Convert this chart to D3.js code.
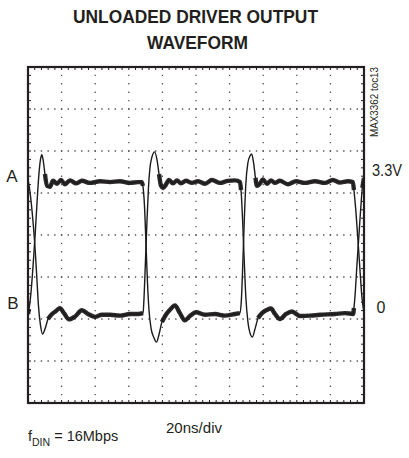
<!DOCTYPE html>
<html><head><meta charset="utf-8">
<script src="https://cdn.jsdelivr.net/npm/d3@7"></script>
<style>html,body{margin:0;padding:0;background:#fff}svg{display:block}text{font-family:"Liberation Sans",Arial,sans-serif;fill:#231f20}</style>
</head><body><svg id="c" width="409" height="458"></svg>
<script>
// ---- data (time in ns, amplitude in V) ----
const titleLines = ["UNLOADED DRIVER OUTPUT", "WAVEFORM"];
const timeDomain = [0, 200];          // 20ns/div, 10 divisions
const voltDomain = [-2.12, 5.88];     // 1V/div, 8 divisions
const timePerDiv = 20, voltPerDiv = 1, subDivs = 5;
const channelLabels = ["A", "B"];
const levelLabels = ["3.3V", "0"];
const levelValues = [3.3, 0];
const sweepLabel = "20ns/div";
const noteLabel = ["f", "DIN", " = 16Mbps"];
const plotId = "MAX3362 toc13";

// trace starting high (falls at left edge)
const traceP = [
  [0.0,3.21],[1.2,2.90],[3.0,2.19],[4.2,1.57],[5.4,0.76],[6.2,0.21],[7.4,-0.26],[8.7,-0.48],
  [10.1,-0.36],[11.9,-0.12],[14.3,0],[16.7,0.07],[19.0,0.14],[21.4,0.02],[24.4,-0.13],[28.0,-0.06],
  [32.1,0.09],[35.7,0],[39.9,-0.07],[44.0,-0.02],[48.8,-0.02],[54.8,-0.04],[60.7,0],[65.5,0],[68.5,0.02],
  [69.0,0.33],[69.9,1.24],[70.8,2.19],[71.7,3.00],[72.6,3.48],[73.8,3.74],[75.3,3.86],[76.8,3.67],
  [78.0,3.33],[79.2,3.05],[80.4,3.00],[82.1,3.08],[83.9,3.19],[86.3,3.11],[88.7,3.18],[91.1,3.11],
  [94.0,3.17],[97.6,3.12],[101.2,3.16],[105.4,3.10],[109.5,3.19],[114.3,3.12],[119.0,3.17],[123.2,3.18],
  [126.2,3.14],[126.8,2.95],[127.6,2.36],[128.5,1.48],[129.7,0.38],[130.9,-0.19],[132.1,-0.45],[133.6,-0.55],
  [135.1,-0.36],[136.9,-0.10],[139.3,0.02],[142.3,0.10],[144.6,0.13],[147.0,0],[150.0,-0.12],[153.6,0],
  [157.1,0.06],[161.9,-0.05],[167.9,-0.04],[173.8,-0.02],[182.7,0],[188.7,0.02],[193.5,0],
  [194.0,0.14],[194.9,0.57],[195.8,1.17],[197.0,1.88],[198.2,2.60],[199.0,3.00],[200.0,3.24]
];
// complementary trace starting low (rises at left edge)
const traceQ = [
  [0.0,0],[0.6,0.12],[1.8,0.52],[3.0,1.14],[4.2,1.86],[5.4,2.67],[6.5,3.33],[7.4,3.67],[8.2,3.79],
  [8.9,3.69],[10.1,3.33],[11.3,3.05],[13.1,3.03],[14.9,3.17],[17.3,3.10],[19.6,3.19],[22.0,3.09],
  [25.0,3.18],[28.6,3.11],[32.1,3.17],[36.9,3.12],[42.8,3.16],[48.8,3.14],[54.7,3.16],[60.7,3.12],
  [65.5,3.14],[67.8,3.14],[68.4,3.05],[69.3,2.60],[70.2,1.71],[71.1,0.76],[72.0,0.10],[73.2,-0.33],
  [75.0,-0.57],[76.5,-0.67],[77.9,-0.50],[79.7,-0.19],[82.1,-0.02],[84.5,0.10],[87.5,0.20],[90.4,0.02],
  [93.4,-0.15],[96.4,-0.05],[100.0,0.04],[105.3,-0.02],[111.3,0],[117.2,-0.04],[123.2,0],[126.1,0.02],
  [127.0,0.33],[127.9,1.24],[128.8,2.29],[129.7,3.12],[130.9,3.60],[132.1,3.76],[133.1,3.81],[134.2,3.62],
  [135.4,3.24],[136.3,3.05],[138.0,3.10],[139.8,3.20],[142.2,3.10],[144.6,3.18],[147.0,3.12],[149.9,3.17],
  [154.7,3.09],[159.5,3.16],[164.8,3.12],[170.8,3.16],[176.7,3.12],[181.5,3.19],[185.6,3.13],[190.4,3.16],
  [193.4,3.14],[194.0,2.95],[195.2,2.43],[196.4,1.76],[197.6,1.05],[198.7,0.43],[199.9,0.05]
];
const settledLevels = [0, 3.14];

// ---- drawing ----
const svg = d3.select("#c");
svg.append("rect").attr("width",409).attr("height",458).attr("fill","#fff");
const x = d3.scaleLinear().domain(timeDomain).range([28, 364]);
const y = d3.scaleLinear().domain(voltDomain).range([403, 67]);
const X0 = x.range()[0], X1 = x.range()[1], Y0 = y.range()[1], Y1 = y.range()[0];

// grid
const g = svg.append("g");
const vDivs = d3.range(timeDomain[0], timeDomain[1] + 1e-6, timePerDiv);
const hDivs = d3.range(0, (voltDomain[1]-voltDomain[0]) / voltPerDiv + 1e-6).map(k => voltDomain[0] + k*voltPerDiv);
const subX = (x(timePerDiv) - x(0)) / subDivs;
const subY = (y(0) - y(voltPerDiv)) / subDivs;
vDivs.slice(1, -1).forEach(t => {
  g.append("line").attr("x1", x(t)).attr("x2", x(t)).attr("y1", Y0).attr("y2", Y1)
   .attr("stroke", "#555").attr("stroke-width", 1.3)
   .attr("stroke-dasharray", `1.4,${(subY-1.4).toFixed(2)}`).attr("stroke-dashoffset", 0.7);
});
hDivs.slice(1, -1).forEach(v => {
  g.append("line").attr("x1", X0).attr("x2", X1).attr("y1", y(v)).attr("y2", y(v))
   .attr("stroke", "#555").attr("stroke-width", 1.3)
   .attr("stroke-dasharray", `1.4,${(subX-1.4).toFixed(2)}`).attr("stroke-dashoffset", 0.7);
});
const tickLen = 3;
d3.range(0, 10*subDivs + 1).forEach(i => {
  const px = X0 + i*subX;
  g.append("line").attr("x1", px).attr("x2", px).attr("y1", Y0).attr("y2", Y0 + tickLen).attr("stroke","#222").attr("stroke-width",1);
  g.append("line").attr("x1", px).attr("x2", px).attr("y1", Y1).attr("y2", Y1 - tickLen).attr("stroke","#222").attr("stroke-width",1);
});
d3.range(0, 8*subDivs + 1).forEach(i => {
  const py = Y1 - i*subY;
  g.append("line").attr("x1", X0).attr("x2", X0 + tickLen).attr("y1", py).attr("y2", py).attr("stroke","#222").attr("stroke-width",1);
  g.append("line").attr("x1", X1).attr("x2", X1 - tickLen).attr("y1", py).attr("y2", py).attr("stroke","#222").attr("stroke-width",1);
});
g.append("rect").attr("x", X0).attr("y", Y0).attr("width", X1 - X0).attr("height", Y1 - Y0)
 .attr("fill", "none").attr("stroke", "#231f20").attr("stroke-width", 2.2);

// traces
svg.append("clipPath").attr("id","clp").append("rect")
  .attr("x", X0).attr("y", Y0).attr("width", X1 - X0).attr("height", Y1 - Y0);
const tg = svg.append("g").attr("clip-path","url(#clp)");
const thin = d3.line().x(d => x(d[0])).y(d => y(d[1])).curve(d3.curveMonotoneX);
const near = d => settledLevels.some(l => Math.abs(d[1] - l) < 0.22);
const thick = d3.line().defined(near).x(d => x(d[0])).y(d => y(d[1])).curve(d3.curveMonotoneX);
[traceP, traceQ].forEach(tr => {
  tg.append("path").attr("d", thick(tr)).attr("fill","none").attr("stroke","#1c1a1a")
    .attr("stroke-width", 4.4).attr("stroke-linejoin","round").attr("stroke-linecap","butt").attr("opacity",0.93);
  tg.append("path").attr("d", thin(tr)).attr("fill","none").attr("stroke","#1c1a1a")
    .attr("stroke-width", 1.4).attr("stroke-linejoin","round");
});

// texts
svg.append("text").attr("x", 195.5).attr("y", 23).attr("text-anchor","middle")
  .attr("font-size", 18).attr("font-weight","bold").attr("textLength", 245).attr("lengthAdjust","spacingAndGlyphs").text(titleLines[0]);
svg.append("text").attr("x", 197.5).attr("y", 49).attr("text-anchor","middle")
  .attr("font-size", 18).attr("font-weight","bold").attr("textLength", 101).attr("lengthAdjust","spacingAndGlyphs").text(titleLines[1]);

svg.append("text").attr("x", 12).attr("y", y(settledLevels[1]) + 0).attr("text-anchor","middle").attr("font-size", 17).text(channelLabels[0]);
svg.append("text").attr("x", 13).attr("y", y(settledLevels[0]) - 5).attr("text-anchor","middle").attr("font-size", 17).text(channelLabels[1]);
svg.append("text").attr("x", 387).attr("y", y(levelValues[0]) + 1).attr("text-anchor","middle").attr("font-size", 16).attr("textLength", 30).attr("lengthAdjust","spacingAndGlyphs").text(levelLabels[0]);
svg.append("text").attr("x", 381).attr("y", y(levelValues[1]) - 1).attr("text-anchor","middle").attr("font-size", 16).text(levelLabels[1]);

svg.append("text").attr("transform", "translate(378,102) rotate(-90)").attr("text-anchor","middle")
  .attr("font-size", 10).attr("textLength", 70).attr("lengthAdjust","spacingAndGlyphs").text(plotId);

svg.append("text").attr("x", 194).attr("y", 433).attr("text-anchor","middle").attr("font-size", 14.5)
  .attr("textLength", 56).attr("lengthAdjust","spacingAndGlyphs").text(sweepLabel);

const note = svg.append("text").attr("x", 28).attr("y", 441).attr("font-size", 14.5);
note.append("tspan").text(noteLabel[0]);
note.append("tspan").attr("font-size", 10.5).attr("dy", 5).text(noteLabel[1]);
note.append("tspan").attr("dy", -5).text(noteLabel[2]);
</script></body></html>
